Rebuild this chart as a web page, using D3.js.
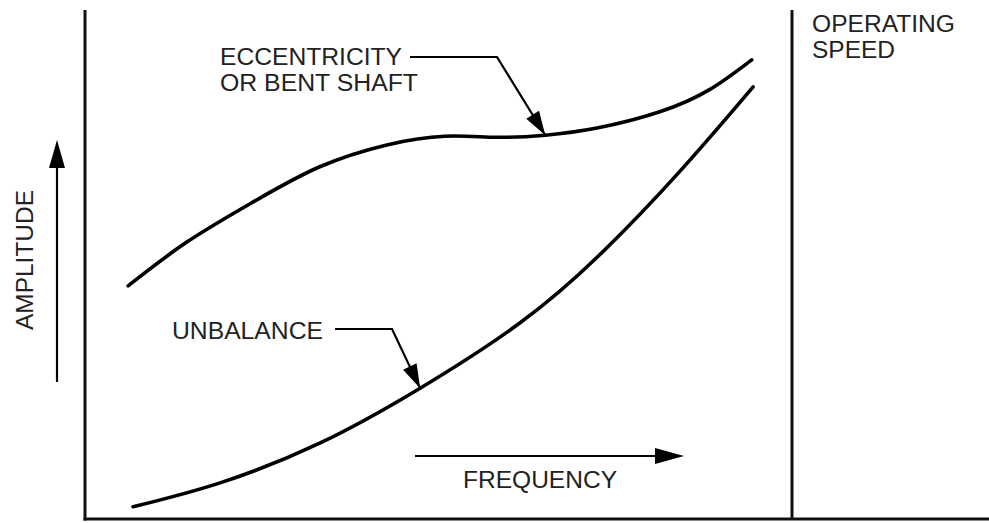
<!DOCTYPE html>
<html>
<head>
<meta charset="utf-8">
<script src="https://cdn.jsdelivr.net/npm/d3@7"></script>
<style>
    html, body { margin: 0; padding: 0; background: #fff; }
    svg { display: block; }
</style>
</head>
<body>
<div id="chart"></div>
<script>
// frequency (0 = origin, 100 = operating speed) / amplitude (0..100)
const eccentricityFreq = [6.1, 14.4, 23.8, 33.2, 42.7, 50.9, 58.3, 65.1, 72.4, 81.3, 88.4, 94.3];
const eccentricityAmp = [45.8, 54.4, 62.3, 69.2, 73.5, 75.2, 75.0, 75.4, 76.8, 80.0, 84.4, 90.2];
const unbalanceFreq = [6.8, 19.1, 33.2, 47.4, 61.5, 72.8, 84.2, 94.5];
const unbalanceAmp = [2.4, 7.1, 14.9, 25.7, 38.5, 51.9, 68.4, 84.9];
const operatingSpeed = 100;

const eccentricityLabel = ['ECCENTRICITY', 'OR BENT SHAFT'];
const unbalanceLabel = 'UNBALANCE';
const operatingLabel = ['OPERATING', 'SPEED'];
const xTitle = 'FREQUENCY';
const yTitle = 'AMPLITUDE';

const width = 989;
const height = 523;
const marginTop = 10;
const marginBottom = 4;
const marginLeft = 85;

const x = d3.scaleLinear()
    .domain([0, 100])
    .range([marginLeft, 792]);

const y = d3.scaleLinear()
    .domain([0, 100])
    .range([height - marginBottom, marginTop]);

const svg = d3.select('#chart').append('svg')
    .attr('width', width)
    .attr('height', height)
    .attr('viewBox', [0, 0, width, height]);

svg.append('rect')
    .attr('width', width)
    .attr('height', height)
    .attr('fill', '#fff');

const font = '"Liberation Sans", Arial, Helvetica, sans-serif';
const fontSize = 23;
const lineGap = 25.8;

// frame: amplitude axis, frequency axis, operating speed line
svg.append('line')
    .attr('x1', x(0)).attr('x2', x(0))
    .attr('y1', y(100)).attr('y2', y(0) + 1.5)
    .attr('stroke', '#111').attr('stroke-width', 3);

svg.append('line')
    .attr('x1', x(0) - 1.5).attr('x2', width)
    .attr('y1', y(0)).attr('y2', y(0))
    .attr('stroke', '#111').attr('stroke-width', 3);

svg.append('line')
    .attr('x1', x(operatingSpeed)).attr('x2', x(operatingSpeed))
    .attr('y1', y(100)).attr('y2', y(0))
    .attr('stroke', '#111').attr('stroke-width', 3);

// curves
const line = d3.line()
    .x(d => x(d[0]))
    .y(d => y(d[1]))
    .curve(d3.curveNatural);

const eccentricity = d3.zip(eccentricityFreq, eccentricityAmp);
const unbalance = d3.zip(unbalanceFreq, unbalanceAmp);

svg.append('g')
    .attr('fill', 'none')
    .attr('stroke', '#000')
    .attr('stroke-width', 3.6)
    .attr('stroke-linecap', 'round')
    .selectAll('path')
    .data([eccentricity, unbalance])
    .join('path')
    .attr('d', line);

// arrowhead pointing at (tx, ty), coming from (fx, fy)
const arrowHead = function(fx, fy, tx, ty, len, half) {
    const a = Math.atan2(ty - fy, tx - fx);
    const bx = tx - len * Math.cos(a);
    const by = ty - len * Math.sin(a);
    const px = -Math.sin(a) * half;
    const py = Math.cos(a) * half;
    svg.append('path')
        .attr('d', `M${tx},${ty}L${bx + px},${by + py}L${bx - px},${by - py}Z`)
        .attr('fill', '#000');
};

// leader: horizontal run, then diagonal down to the curve
const leader = function(x0, x1, yl, tip) {
    const tx = x(tip[0]);
    const ty = y(tip[1]);
    svg.append('path')
        .attr('d', `M${x0},${yl}L${x1},${yl}L${tx},${ty}`)
        .attr('fill', 'none')
        .attr('stroke', '#000')
        .attr('stroke-width', 2.2);
    arrowHead(x1, yl, tx, ty, 24, 7.5);
};

leader(410, 497, 57, eccentricity[7]);
leader(335, 392, 329, unbalance[3]);

// labels
const text = svg.append('g')
    .attr('fill', '#222')
    .style('font-family', font)
    .style('font-size', fontSize + 'px');

const addLabel = function(str, tx, ty, len) {
    return text.append('text')
        .attr('x', tx)
        .attr('y', ty)
        .attr('textLength', len)
        .attr('lengthAdjust', 'spacingAndGlyphs')
        .text(str);
};

addLabel(eccentricityLabel[0], 220, 65, 182);
addLabel(eccentricityLabel[1], 220, 65 + lineGap, 198);
addLabel(operatingLabel[0], 812, 32, 143);
addLabel(operatingLabel[1], 812, 32 + lineGap, 83);
addLabel(unbalanceLabel, 172, 339, 151);
addLabel(xTitle, 463, 488, 154);

addLabel(yTitle, 0, 0, 140)
    .attr('transform', 'translate(33,260) rotate(-90)')
    .attr('text-anchor', 'middle');

// direction arrows
svg.append('line')
    .attr('x1', 57).attr('x2', 57)
    .attr('y1', 382).attr('y2', 160)
    .attr('stroke', '#000').attr('stroke-width', 2.2);
arrowHead(57, 382, 57, 140, 28, 8);

svg.append('line')
    .attr('x1', 415).attr('x2', 665)
    .attr('y1', 456).attr('y2', 456)
    .attr('stroke', '#000').attr('stroke-width', 2.2);
arrowHead(415, 456, 684, 456, 29, 8);
</script>
</body>
</html>
